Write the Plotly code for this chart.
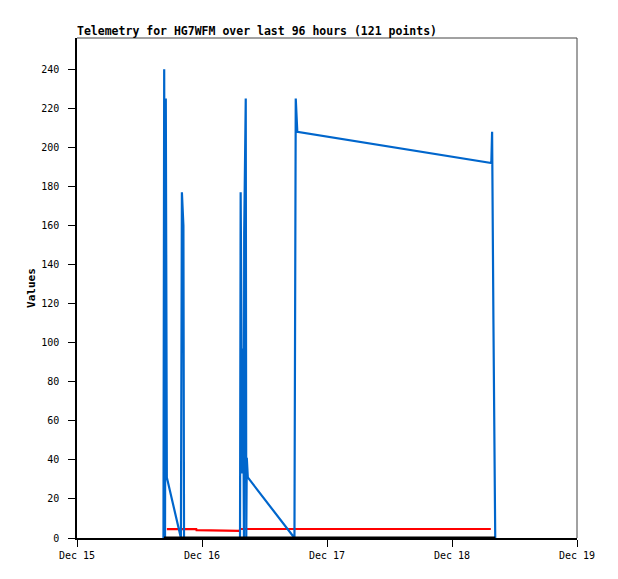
import pandas as pd
import plotly.graph_objects as go

base = pd.Timestamp("2024-12-15 00:00")

# Blue series (hours after Dec 15 00:00, value)
blue_hours = [16.60, 16.74, 16.90, 17.05, 17.25, 19.95, 20.14, 20.43, 20.55,
              31.30, 31.42, 31.60, 31.75, 31.90, 32.05, 32.10, 32.25, 32.40, 32.50, 32.60, 32.80,
              41.75, 42.00, 42.30, 79.55, 79.70, 79.95, 80.15, 80.30]
blue_values = [0, 240, 0, 225, 31, 0, 177, 160, 0,
               0, 177, 97, 33, 97, 0, 156, 193, 225, 0, 41, 31,
               0, 225, 208, 192, 208, 112, 56, 0]

# Red series
red_hours = [17.25, 22.90, 22.95, 27.00, 31.20, 31.35, 79.45]
red_values = [4.5, 4.5, 4.0, 3.9, 3.7, 4.6, 4.6]

# Black series
black_hours = [16.70, 80.30]
black_values = [0, 0]

x_tick_dates = ["2024-12-15", "2024-12-16", "2024-12-17", "2024-12-18", "2024-12-19"]
x_tick_labels = ["Dec 15", "Dec 16", "Dec 17", "Dec 18", "Dec 19"]
y_ticks = list(range(0, 241, 20))

def to_time(hours):
    return [base + pd.Timedelta(hours=h) for h in hours]

fig = go.Figure()
fig.add_trace(go.Scatter(x=to_time(red_hours), y=red_values, mode="lines",
                         line=dict(color="#ff0000", width=2.2), showlegend=False))
fig.add_trace(go.Scatter(x=to_time(blue_hours), y=blue_values, mode="lines",
                         line=dict(color="#0066cc", width=2.2), showlegend=False))
fig.add_trace(go.Scatter(x=to_time(black_hours), y=black_values, mode="lines",
                         line=dict(color="#000000", width=3), showlegend=False))

mono = "DejaVu Sans Mono"
fig.update_layout(
    width=618, height=579,
    margin=dict(l=77, r=41, t=38, b=41),
    paper_bgcolor="white", plot_bgcolor="white",
    title=dict(text="<b>Telemetry for HG7WFM over last 96 hours (121 points)</b>",
               x=77 / 618, xanchor="left", xref="container", y=1 - 31 / 579, yanchor="middle",
               yref="container",
               font=dict(family=mono, size=11.5, color="black")),
    xaxis=dict(type="date", range=[x_tick_dates[0], x_tick_dates[-1]],
               tickmode="array", tickvals=x_tick_dates, ticktext=x_tick_labels,
               showgrid=False, zeroline=False, showline=True, linecolor="black", linewidth=1.5,
               ticks="outside", ticklen=7, tickcolor="black", tickwidth=1,
               tickfont=dict(family=mono, size=10, color="black")),
    yaxis=dict(range=[0, 256], tickmode="array", tickvals=y_ticks,
               showgrid=False, zeroline=False, showline=True, linecolor="black", linewidth=1.5,
               ticks="outside", ticklen=7, tickcolor="black", tickwidth=1,
               ticklabelstandoff=7,
               tickfont=dict(family=mono, size=10, color="black"),
               title=dict(text="<b>Values</b>", font=dict(family=mono, size=11, color="black"),
                          standoff=3)),
    shapes=[
        dict(type="line", xref="paper", yref="paper", x0=0, x1=1, y0=1, y1=1,
             line=dict(color="#444444", width=1)),
        dict(type="line", xref="paper", yref="paper", x0=1, x1=1, y0=0, y1=1,
             line=dict(color="#444444", width=1)),
    ],
)

fig.write_html("out.html", config={"displayModeBar": False},
               post_script="document.body.style.margin='0';")
